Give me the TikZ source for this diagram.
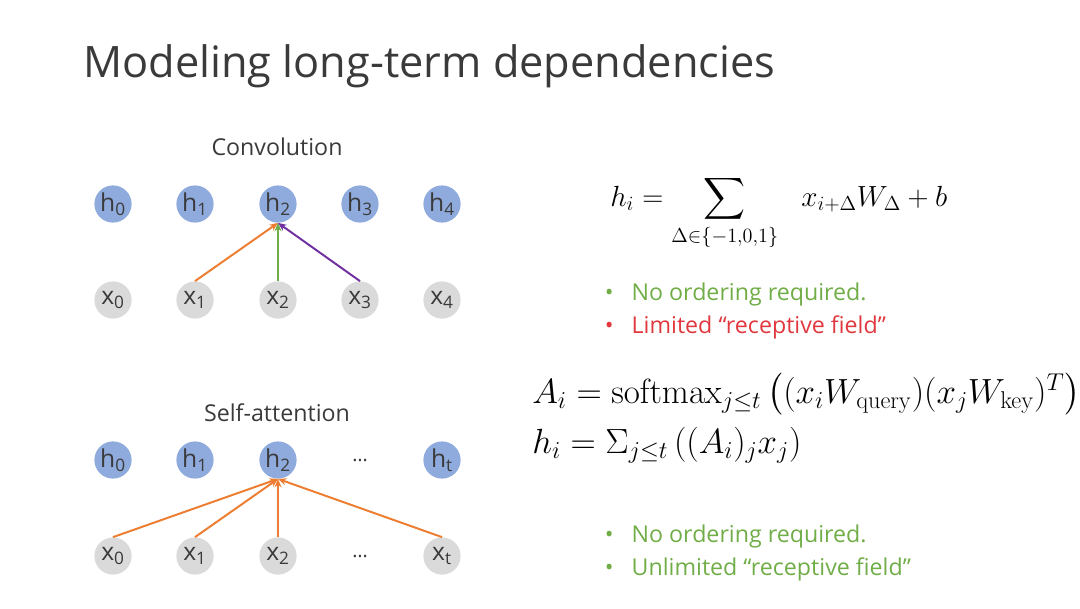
\documentclass[tikz,border=0pt]{standalone}
\usepackage[no-math]{fontspec}
\setmainfont{Open Sans}
\usepackage{amsmath}
\usetikzlibrary{positioning, arrows.meta}
\definecolor{hblue}{HTML}{8FAADC}
\definecolor{xgrey}{HTML}{DADADA}
\definecolor{inktext}{HTML}{3A3A3A}
\definecolor{arrorange}{HTML}{ED7D31}
\definecolor{arrgreen}{HTML}{70AD47}
\definecolor{arrpurple}{HTML}{7030A0}
\definecolor{notegreen}{HTML}{70AD47}
\definecolor{notered}{HTML}{E0383E}
\newcommand{\bul}{\makebox[19pt][l]{\textbullet}}

\begin{document}
\begin{tikzpicture}[x=0.025cm, y=-0.025cm,
    hnode/.style={circle, fill=hblue, minimum size=0.93cm, inner sep=0pt,
                  text=inktext, font=\fontsize{17.5}{19}\selectfont},
    xnode/.style={circle, fill=xgrey, minimum size=0.93cm, inner sep=0pt,
                  text=inktext, font=\fontsize{17.5}{19}\selectfont},
    dotsnode/.style={text=inktext, font=\fontsize{14}{16}\selectfont},
    caption/.style={text=inktext, font=\fontsize{16.5}{19}\selectfont},
    link/.style={line width=1.4pt, -{Stealth[length=6pt, width=5pt]}},
    note/.style={anchor=base west, align=left, font=\fontsize{16.5}{23.4}\selectfont},
    formula/.style={anchor=base west, inner sep=0pt, font=\fontsize{23}{26}\selectfont}]
    \useasboundingbox (0,0) rectangle (1080,608);

    % title
    \node[anchor=base west, text=inktext, font=\fontsize{30.8}{36}\selectfont,
          inner sep=0pt] (title) at (83,77) {Modeling long-term dependencies};

    % convolution
    \node[caption] (convcap) at (277,147) {Convolution};
    \node[hnode] (ch0) at (113,204) {h\textsubscript{0}};
    \node[hnode] (ch1) at (195,204) {h\textsubscript{1}};
    \node[hnode] (ch2) at (278,204) {h\textsubscript{2}};
    \node[hnode] (ch3) at (360,204) {h\textsubscript{3}};
    \node[hnode] (ch4) at (442,204) {h\textsubscript{4}};
    \node[xnode] (cx0) at (113,300) {x\textsubscript{0}};
    \node[xnode] (cx1) at (195,300) {x\textsubscript{1}};
    \node[xnode] (cx2) at (278,300) {x\textsubscript{2}};
    \node[xnode] (cx3) at (360,300) {x\textsubscript{3}};
    \node[xnode] (cx4) at (442,300) {x\textsubscript{4}};
    \draw[link, arrorange] (cx1.north) -- (ch2.south);
    \draw[link, arrgreen] (cx2.north) -- (ch2.south);
    \draw[link, arrpurple] (cx3.north) -- (ch2.south);

    % self-attention
    \node[caption] (attcap) at (277,413) {Self-attention};
    \node[hnode] (ah0) at (113,460) {h\textsubscript{0}};
    \node[hnode] (ah1) at (195,460) {h\textsubscript{1}};
    \node[hnode] (ah2) at (278,460) {h\textsubscript{2}};
    \node[dotsnode] (ahdots) at (360,460) {…};
    \node[hnode] (aht) at (442,460) {h\textsubscript{t}};
    \node[xnode] (ax0) at (113,556) {x\textsubscript{0}};
    \node[xnode] (ax1) at (195,556) {x\textsubscript{1}};
    \node[xnode] (ax2) at (278,556) {x\textsubscript{2}};
    \node[dotsnode] (axdots) at (360,556) {…};
    \node[xnode] (axt) at (442,556) {x\textsubscript{t}};
    \draw[link, arrorange] (ax0.north) -- (ah2.south);
    \draw[link, arrorange] (ax1.north) -- (ah2.south);
    \draw[link, arrorange] (ax2.north) -- (ah2.south);
    \draw[link, arrorange] (axt.north) -- (ah2.south);

    % formulas
    \node[formula, font=\fontsize{21.5}{24}\selectfont] (convform) at (610,206)
      {$\displaystyle h_i = \sum_{\Delta\in\{-1,0,1\}}\hspace{13pt} x_{i+\Delta}W_\Delta + b$};
    \node[formula] (attnA) at (532,403)
      {$A_i = \operatorname{softmax}_{j\leq t}\left((x_iW_{\mathrm{query}})(x_jW_{\mathrm{key}})^T\right)$};
    \node[formula] (attnH) at (532,453)
      {$h_i = \Sigma_{j\leq t}\left((A_i)_jx_j\right)$};

    % notes
    \node[note] (convnotes) at (600,333)
      {{\color{notegreen}\bul No ordering required.}\\
       {\color{notered}\bul Limited “receptive field”}};
    \node[note] (attnotes) at (600,575)
      {{\color{notegreen}\bul No ordering required.}\\
       {\color{notegreen}\bul Unlimited “receptive field”}};
  \end{tikzpicture}
\end{document}
